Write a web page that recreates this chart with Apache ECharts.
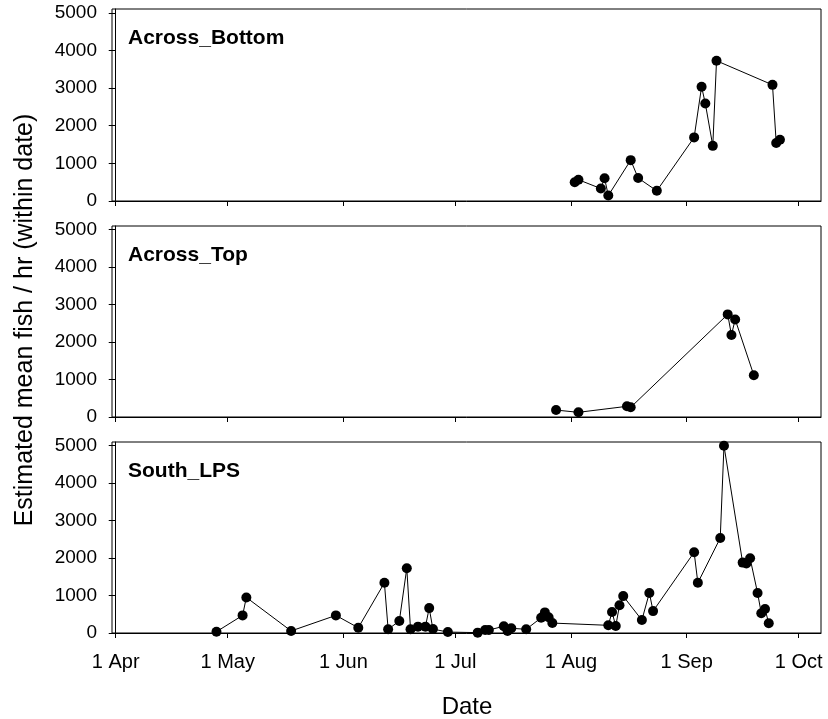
<!DOCTYPE html>
<html><head><meta charset="utf-8">
<script src="https://cdn.jsdelivr.net/npm/echarts@6/dist/echarts.min.js"></script>
<style>html,body{margin:0;padding:0;background:#fff}#c{width:828px;height:719px}</style>
</head><body><div id="c"></div>
<script>
const YEAR = 2010;
const panelTitles = ['Across_Bottom', 'Across_Top', 'South_LPS'];

const acrossBottomDates = ['08-02','08-03','08-09','08-10','08-11','08-17','08-19','08-24','09-03','09-05','09-06','09-08','09-09','09-24','09-25','09-26'];
const acrossBottomValues = [500,565,330,605,145,1085,610,270,1690,3035,2590,1465,3725,3085,1540,1625];

const acrossTopDates = ['07-28','08-03','08-16','08-17','09-12','09-13','09-14','09-19'];
const acrossTopValues = [185,125,285,258,2740,2190,2605,1115];

const southLPSDates = ['04-28','05-05','05-06','05-18','05-30','06-05','06-12','06-13','06-16','06-18','06-19','06-21','06-23','06-24','06-25','06-29','07-07','07-09','07-10','07-14','07-15','07-16','07-20','07-24','07-25','07-26','07-27','08-11','08-12','08-13','08-14','08-15','08-20','08-22','08-23','09-03','09-04','09-10','09-11','09-16','09-17','09-18','09-20','09-21','09-22','09-23'];
const southLPSValues = [35,470,950,55,470,140,1340,100,320,1730,100,170,170,665,105,25,10,80,80,180,55,125,100,405,550,420,265,205,560,185,740,985,345,1070,585,2155,1340,2535,5000,1880,1855,1995,1070,525,640,260];

const tickDates = ['04-01','05-01','06-01','07-01','08-01','09-01','10-01'];
const tickLabels = ['1 Apr','1 May','1 Jun','1 Jul','1 Aug','1 Sep','1 Oct'];
const yTicks = [0,1000,2000,3000,4000,5000];

const yAxisTitle = 'Estimated mean fish / hr (within date)';
const xAxisTitle = 'Date';

function dayOf(md) {
  const [m, d] = md.split('-').map(Number);
  return (Date.UTC(YEAR, m - 1, d) - Date.UTC(YEAR, 3, 1)) / 86400000;
}
const tickDays = tickDates.map(dayOf);
const panels = [
  [acrossBottomDates, acrossBottomValues],
  [acrossTopDates, acrossTopValues],
  [southLPSDates, southLPSValues]
];

const FONT = 'Liberation Sans, Arial, sans-serif';
const gridTops = [9, 226, 442];
const gridHeights = [192, 191, 191];

const grids = gridTops.map((t, i) => ({
  left: 112, right: 7, top: t, height: gridHeights[i],
  show: true, borderColor: '#000', borderWidth: 1, backgroundColor: 'transparent'
}));

const xAxes = [0,1,2].map(i => ({
  type: 'value', gridIndex: i, min: -1, max: 189,
  axisLine: { show: true, onZero: false, lineStyle: { color: '#000', width: 1 } },
  axisTick: { show: true, length: 5, inside: false, customValues: tickDays, lineStyle: { color: '#000' } },
  axisLabel: {
    show: i === 2, customValues: tickDays, margin: 19,
    color: '#000', fontSize: 20, fontFamily: FONT,
    formatter: v => { const k = tickDays.indexOf(v); return k >= 0 ? tickLabels[k] : ''; }
  },
  splitLine: { show: false }
}));

const yAxes = [0,1,2].map(i => ({
  type: 'value', gridIndex: i, min: 0, max: 5100,
  axisLine: { show: true, lineStyle: { color: '#000', width: 1 } },
  axisTick: { show: true, length: 7, customValues: yTicks, lineStyle: { color: '#000' } },
  axisLabel: {
    customValues: yTicks, margin: 15, color: '#000', fontSize: 19, fontFamily: FONT,
    formatter: v => (yTicks.indexOf(v) >= 0 ? String(v) : '')
  },
  splitLine: { show: false }
}));

const series = panels.map(([dates, vals], i) => ({
  type: 'line', xAxisIndex: i, yAxisIndex: i,
  data: dates.map((d, k) => [dayOf(d), vals[k]]),
  symbol: 'circle', symbolSize: 10, showAllSymbol: true,
  itemStyle: { color: '#000' },
  lineStyle: { color: '#000', width: 1 },
  emphasis: { disabled: true },
  z: 3
}));

const titles = panelTitles.map((t, i) => ({
  text: t, left: 128, top: gridTops[i] + 19, padding: 0,
  textStyle: { fontSize: 21, fontWeight: 'bold', color: '#000', fontFamily: FONT }
}));

const chart = echarts.init(document.getElementById('c'), null, { renderer: 'canvas' });
chart.setOption({
  animation: false,
  backgroundColor: '#fff',
  title: titles,
  grid: grids,
  xAxis: xAxes,
  yAxis: yAxes,
  series: series,
  graphic: [
    { type: 'text', x: 25, y: 320, rotation: Math.PI / 2,
      style: { text: yAxisTitle, fill: '#000', font: '25px ' + FONT, align: 'center', verticalAlign: 'middle' } },
    { type: 'text', x: 467, y: 707,
      style: { text: xAxisTitle, fill: '#000', font: '24px ' + FONT, align: 'center', verticalAlign: 'middle' } }
  ]
});
</script>
</body></html>
